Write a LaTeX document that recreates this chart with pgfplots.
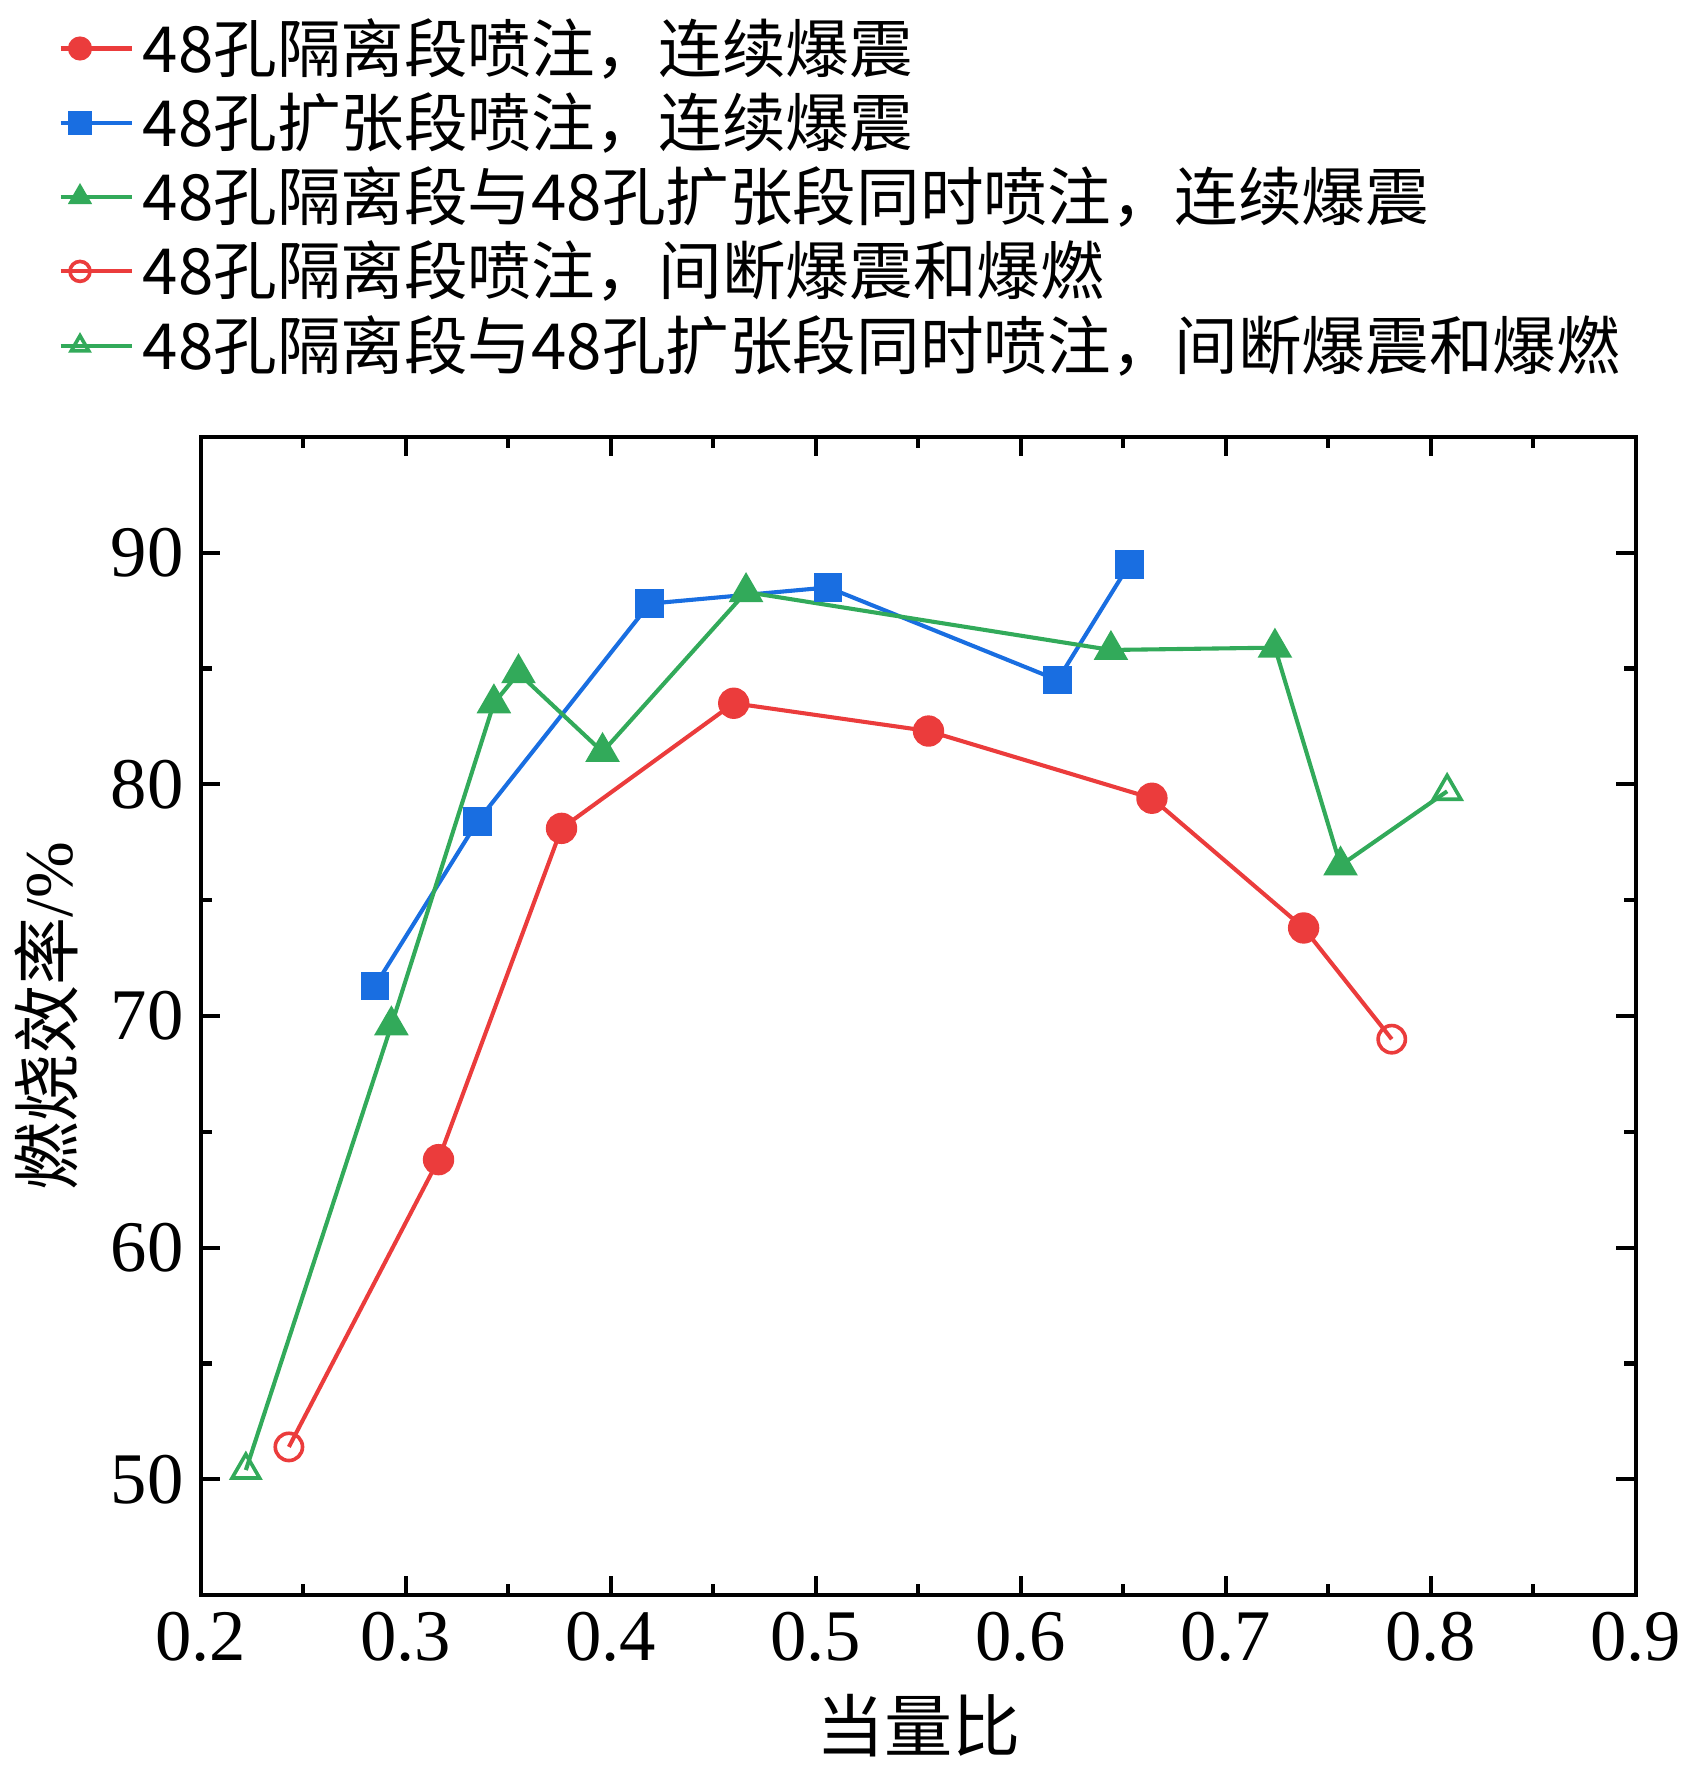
\documentclass[border=0pt]{standalone}
\usepackage{pgfplots}
\pgfplotsset{compat=1.18}
\usepackage{fontspec}
\setmainfont{Liberation Serif}
\newfontfamily\cjk{Noto Sans CJK SC}
\definecolor{cr}{RGB}{235,60,60}
\definecolor{cb}{RGB}{25,110,225}
\definecolor{cg}{RGB}{50,170,90}
\begin{document}
\begin{tikzpicture}
\begin{axis}[
  width=11.1cm, height=8.96cm, scale only axis,
  xmin=0.2, xmax=0.9, ymin=45, ymax=95,
  xtick={0.2,0.3,...,0.9}, ytick={50,60,70,80,90},
  minor tick num=1,
  tick align=inside, ticks=both,
  xtick pos=both, ytick pos=both,
  major tick length=0.15cm, minor tick length=0.09cm,
  line width=0.9pt,
  tick style={line width=0.9pt,black},
  /pgf/number format/assume math mode=true,
  /pgf/number format/fixed, /pgf/number format/precision=1,
  /pgf/number format/fixed zerofill,
  yticklabel style={/pgf/number format/precision=0,/pgf/number format/fixed zerofill=false},
  ticklabel style={font=\fontsize{16}{19}\selectfont},
  xlabel={\cjk 当量比}, ylabel={{\cjk 燃烧效率}/\%},
  label style={font=\fontsize{15}{18}\selectfont},
  legend style={at={(-0.11,1.035)}, anchor=south west, draw=none, fill=none,
    font=\fontsize{14}{17}\selectfont\cjk, row sep=-1pt, cells={anchor=west}},
  legend cell align=left,
  legend image code/.code={\draw[#1, mark size=2.2pt] plot coordinates {(0.15cm,0cm)}; \path (0,0) -- (0.55cm,0);},
]
\addplot[cr, line width=0.9pt, forget plot] coordinates {(0.243,51.4)(0.316,63.8)(0.376,78.1)(0.460,83.5)(0.555,82.3)(0.664,79.4)(0.738,73.8)(0.781,69.0)};
\addplot[cb, line width=0.9pt, forget plot] coordinates {(0.285,71.3)(0.335,78.4)(0.419,87.8)(0.506,88.5)(0.618,84.5)(0.653,89.5)};
\addplot[cg, line width=0.9pt, forget plot] coordinates {(0.222,50.4)(0.293,69.6)(0.343,83.5)(0.355,84.8)(0.396,81.4)(0.466,88.3)(0.644,85.8)(0.724,85.9)(0.756,76.5)(0.808,79.7)};
\addplot[only marks, mark=*, mark size=3.0pt, cr, fill=cr] coordinates {(0.316,63.8)(0.376,78.1)(0.460,83.5)(0.555,82.3)(0.664,79.4)(0.738,73.8)};
\addlegendentry{48孔隔离段喷注，连续爆震}
\addplot[only marks, mark=square*, mark size=2.7pt, cb, fill=cb] coordinates {(0.285,71.3)(0.335,78.4)(0.419,87.8)(0.506,88.5)(0.618,84.5)(0.653,89.5)};
\addlegendentry{48孔扩张段喷注，连续爆震}
\addplot[only marks, mark=triangle*, mark size=3.5pt, cg, fill=cg] coordinates {(0.293,69.6)(0.343,83.5)(0.355,84.8)(0.396,81.4)(0.466,88.3)(0.644,85.8)(0.724,85.9)(0.756,76.5)};
\addlegendentry{48孔隔离段与48孔扩张段同时喷注，连续爆震}
\addplot[only marks, mark=o, mark size=3.0pt, cr, fill=white, mark options={line width=0.8pt}] coordinates {(0.243,51.4)(0.781,69.0)};
\addlegendentry{48孔隔离段喷注，间断爆震和爆燃}
\addplot[only marks, mark=triangle, mark size=3.5pt, cg, fill=white, mark options={line width=0.8pt}] coordinates {(0.222,50.4)(0.808,79.7)};
\addlegendentry{48孔隔离段与48孔扩张段同时喷注，间断爆震和爆燃}
\end{axis}
\end{tikzpicture}
\end{document}
